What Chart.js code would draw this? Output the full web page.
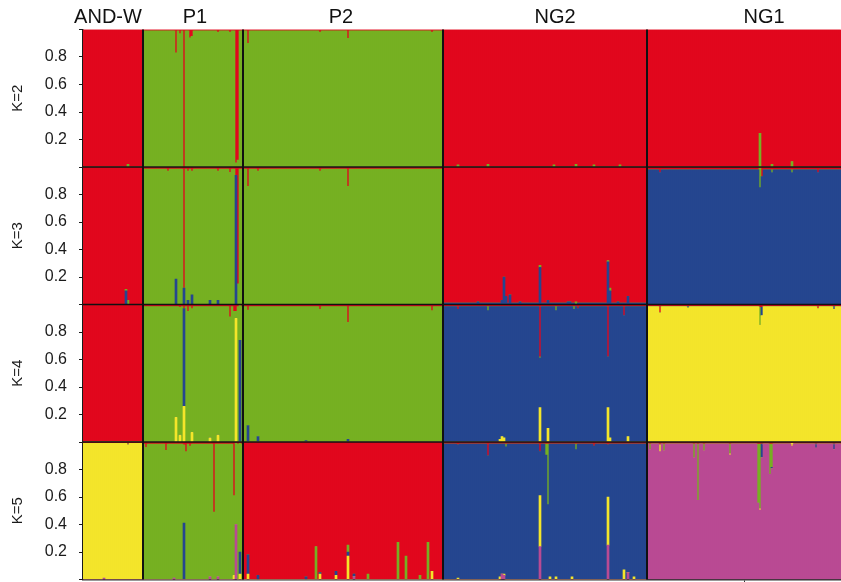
<!DOCTYPE html>
<html>
<head>
<meta charset="utf-8">
<script src="https://cdn.jsdelivr.net/npm/chart.js@4/dist/chart.umd.min.js"></script>
<style>
  html, body { margin: 0; padding: 0; background: #fff; }
  canvas { display: block; }
</style>
</head>
<body>
<canvas id="structurePlot" width="841" height="582"></canvas>
<script>
// populations, left to right, and how many individuals each holds
const groups = ['AND-W', 'P1', 'P2', 'NG2', 'NG1'];
const groupSizes = [30, 50, 100, 102, 97];
// individual (index) over which each population name sits
const labelAt = [12, 55.5, 128.5, 235.5, 340];

const clusterColors = {
    red: '#e1071d',
    green: '#76b022',
    blue: '#25468f',
    yellow: '#f4e52a',
    pink: '#b94a93'
};

// clusters of each K, bottom to top of a bar
const k2Order = ['green', 'red'];
const k3Order = ['blue', 'green', 'red'];
const k4Order = ['yellow', 'blue', 'green', 'red'];
const k5Order = ['pink', 'yellow', 'blue', 'green', 'red'];

// cluster filling each population
const k2Main = ['red', 'green', 'green', 'red', 'red'];
const k3Main = ['red', 'green', 'green', 'red', 'blue'];
const k4Main = ['red', 'green', 'green', 'blue', 'yellow'];
const k5Main = ['yellow', 'green', 'red', 'blue', 'pink'];

// thin shares that run through a whole population
const k2Trace = [{}, { red: 0.01 }, { red: 0.01 }, {}, {}];
const k3Trace = [{}, { red: 0.015 }, { red: 0.015 }, { blue: 0.01 }, { red: 0.02 }];
const k4Trace = [{}, { red: 0.015 }, { red: 0.015 }, { red: 0.015 }, { red: 0.015 }];
const k5Trace = [{ red: 0.01 }, { red: 0.015 }, {}, { red: 0.015 }, { red: 0.015 }];

// admixed individuals: [index, shares of the non-main clusters]
const k2Admixed = [
    [22, { green: 0.02 }],
    [46, { red: 0.17 }], [48, { red: 0.03 }], [50, { red: 1 }], [53, { red: 0.06 }],
    [54, { red: 0.05 }], [67, { red: 0.02 }], [73, { red: 0.02 }], [76, { red: 0.97 }],
    [77, { red: 0.95 }],
    [82, { red: 0.1 }], [118, { red: 0.02 }], [132, { red: 0.065 }], [174, { red: 0.02 }],
    [187, { green: 0.015 }], [202, { green: 0.02 }], [235, { green: 0.015 }],
    [246, { green: 0.02 }], [255, { green: 0.015 }], [268, { green: 0.015 }],
    [338, { green: 0.245 }], [344, { green: 0.02 }], [354, { green: 0.04 }]
];

const k3Admixed = [
    [21, { blue: 0.1, green: 0.01 }], [22, { green: 0.03 }],
    [42, { red: 0.03 }], [46, { blue: 0.185, red: 0.015 }], [50, { blue: 0.12, red: 0.88 }],
    [52, { blue: 0.03, red: 0.03 }], [54, { blue: 0.07, red: 0.03 }],
    [63, { blue: 0.03, red: 0.015 }], [67, { blue: 0.03, red: 0.03 }], [73, { red: 0.04 }],
    [76, { blue: 0.94, red: 0.06 }], [77, { red: 0.85 }],
    [82, { red: 0.14 }], [87, { red: 0.03 }], [118, { red: 0.03 }], [132, { red: 0.14 }],
    [197, { blue: 0.02 }], [209, { blue: 0.03 }], [210, { blue: 0.2 }], [211, { blue: 0.06 }],
    [213, { blue: 0.07 }], [218, { blue: 0.02 }], [228, { blue: 0.27, green: 0.015 }],
    [232, { blue: 0.03 }], [242, { blue: 0.02 }], [243, { blue: 0.02 }], [246, { green: 0.02 }],
    [262, { blue: 0.31, green: 0.01 }], [263, { blue: 0.1, green: 0.02 }],
    [267, { blue: 0.02 }], [272, { blue: 0.06 }],
    [288, { red: 0.04 }], [338, { green: 0.14, red: 0.01 }], [339, { red: 0.07 }],
    [344, { green: 0.02, red: 0.02 }], [354, { green: 0.02, red: 0.02 }], [367, { red: 0.04 }]
];

const k4Admixed = [
    [46, { yellow: 0.18, red: 0.015 }], [48, { yellow: 0.05, red: 0.02 }],
    [50, { yellow: 0.26, blue: 0.71, red: 0.03 }], [52, { red: 0.05 }],
    [54, { yellow: 0.07, red: 0.03 }], [63, { yellow: 0.03, red: 0.015 }],
    [67, { yellow: 0.05, red: 0.015 }], [73, { red: 0.09 }], [75, { red: 0.05 }],
    [76, { yellow: 0.9, red: 0.05 }], [78, { blue: 0.74 }],
    [82, { blue: 0.12, red: 0.04 }], [87, { blue: 0.04, red: 0.015 }],
    [111, { blue: 0.01, red: 0.015 }], [118, { red: 0.035 }],
    [132, { blue: 0.02, red: 0.13 }], [174, { red: 0.045 }],
    [187, { red: 0.035 }], [202, { green: 0.03, red: 0.015 }],
    [208, { yellow: 0.02, red: 0.015 }], [209, { yellow: 0.04, red: 0.015 }],
    [210, { yellow: 0.03, red: 0.015 }], [228, { yellow: 0.25, green: 0.01, red: 0.38 }],
    [232, { yellow: 0.1, red: 0.015 }], [236, { green: 0.03, red: 0.015 }],
    [245, { green: 0.02, red: 0.015 }], [247, { red: 0.03 }],
    [262, { yellow: 0.25, red: 0.38 }], [263, { yellow: 0.03, red: 0.015 }],
    [270, { red: 0.08 }], [272, { yellow: 0.04, red: 0.015 }],
    [288, { red: 0.06 }], [302, { blue: 0.01, red: 0.015 }],
    [338, { green: 0.13, red: 0.02 }], [339, { blue: 0.06, red: 0.02 }],
    [367, { red: 0.03 }], [375, { blue: 0.02, red: 0.015 }]
];

const k5Admixed = [
    [10, { pink: 0.01, red: 0.01 }], [22, { red: 0.02 }],
    [31, { red: 0.04 }], [41, { red: 0.06 }], [45, { pink: 0.01, red: 0.015 }],
    [50, { blue: 0.41, red: 0.02 }], [51, { red: 0.07 }], [53, { red: 0.03 }],
    [63, { pink: 0.02, red: 0.015 }], [65, { red: 0.51 }], [67, { pink: 0.02, red: 0.015 }],
    [75, { yellow: 0.03, red: 0.39 }], [76, { pink: 0.4, red: 0.01 }],
    [78, { yellow: 0.04, blue: 0.16, red: 0.01 }],
    [82, { yellow: 0.04, blue: 0.14 }], [87, { blue: 0.03 }], [111, { blue: 0.02 }],
    [116, { green: 0.24 }], [118, { yellow: 0.04, blue: 0.01 }],
    [126, { yellow: 0.03, blue: 0.03 }], [132, { yellow: 0.17, blue: 0.03, green: 0.05 }],
    [135, { pink: 0.02, blue: 0.02 }], [142, { green: 0.04 }], [157, { green: 0.27 }],
    [161, { green: 0.17 }], [168, { green: 0.03 }], [172, { green: 0.27 }], [174, { yellow: 0.06 }],
    [187, { yellow: 0.01, red: 0.02 }], [202, { red: 0.1 }],
    [208, { yellow: 0.02, red: 0.015 }], [209, { pink: 0.04, red: 0.015 }],
    [210, { pink: 0.03, yellow: 0.01, red: 0.015 }], [211, { green: 0.02, red: 0.015 }],
    [228, { pink: 0.24, yellow: 0.37, red: 0.07 }],
    [231, { green: 0.08, red: 0.015 }], [232, { green: 0.44, red: 0.015 }],
    [233, { yellow: 0.02, red: 0.015 }], [236, { yellow: 0.02, red: 0.015 }],
    [244, { yellow: 0.02, red: 0.015 }], [246, { green: 0.04, red: 0.015 }], [255, { red: 0.03 }],
    [262, { pink: 0.25, yellow: 0.35, red: 0.02 }], [270, { yellow: 0.07, red: 0.015 }],
    [272, { pink: 0.05, red: 0.015 }], [275, { yellow: 0.02, red: 0.015 }],
    [283, { green: 0.04, red: 0.015 }], [288, { yellow: 0.05, red: 0.02 }],
    [290, { green: 0.05, red: 0.015 }], [305, { green: 0.1, red: 0.015 }],
    [307, { green: 0.41, red: 0.015 }], [310, { green: 0.05, red: 0.015 }],
    [323, { yellow: 0.01, green: 0.07, red: 0.015 }], [337, { green: 0.43, red: 0.015 }],
    [338, { yellow: 0.01, green: 0.47, red: 0.015 }], [339, { blue: 0.1, red: 0.015 }],
    [343, { green: 0.22, red: 0.015 }], [344, { blue: 0.01, green: 0.17, red: 0.015 }],
    [354, { yellow: 0.02, red: 0.01 }], [366, { blue: 0.03, red: 0.015 }],
    [375, { blue: 0.04, red: 0.015 }]
];

const panels = [
    { axis: 'k2', title: 'K=2', order: k2Order, main: k2Main, trace: k2Trace, admixed: k2Admixed, weight: 4 },
    { axis: 'k3', title: 'K=3', order: k3Order, main: k3Main, trace: k3Trace, admixed: k3Admixed, weight: 3 },
    { axis: 'k4', title: 'K=4', order: k4Order, main: k4Main, trace: k4Trace, admixed: k4Admixed, weight: 2 },
    { axis: 'k5', title: 'K=5', order: k5Order, main: k5Main, trace: k5Trace, admixed: k5Admixed, weight: 1 }
];

const total = groupSizes.reduce((a, b) => a + b, 0);
const individuals = Array.from({ length: total }, (_, i) => String(i + 1));

// middle of each population, for the small ticks under the last panel
const groupCenters = [];
let run = 0;
groupSizes.forEach(n => { groupCenters.push(run + (n - 1) / 2); run += n; });

// shares per cluster for every individual; the main cluster takes what is left
function buildShares(p) {
    const extra = new Map(p.admixed);
    const shares = {};
    p.order.forEach(c => { shares[c] = []; });
    let i = 0;
    groupSizes.forEach((n, gi) => {
        const main = p.main[gi];
        for (let k = 0; k < n; k++, i++) {
            const other = extra.get(i) || p.trace[gi];
            let rest = 1;
            p.order.forEach(c => {
                if (c === main) return;
                const v = other[c] || 0;
                shares[c].push(v);
                rest -= v;
            });
            shares[main].push(Math.max(rest, 0));
        }
    });
    return shares;
}

const datasets = [];
panels.forEach(p => {
    const shares = buildShares(p);
    p.order.forEach(c => {
        datasets.push({
            label: p.title + ' ' + c,
            data: shares[c],
            yAxisID: p.axis,
            backgroundColor: clusterColors[c],
            borderWidth: 0,
            barPercentage: 1,
            categoryPercentage: 1
        });
    });
});

const ink = '#1a1a1a';

function panelAxis(p) {
    return {
        type: 'linear',
        position: 'left',
        stack: 'panels',
        stackWeight: 1,
        weight: p.weight,
        stacked: true,
        min: 0,
        max: 1,
        z: 1,
        afterFit: s => {
            s.width = 83;
            s.paddingTop = 0;
            s.paddingBottom = 0;
        },
        ticks: {
            stepSize: 0.2,
            autoSkip: false,
            padding: 12,
            color: ink,
            font: { size: 16 },
            callback: v => (v > 0.01 && v < 0.99) ? v.toFixed(1) : ''
        },
        grid: { drawOnChartArea: false, drawTicks: true, tickLength: 4, color: ink },
        border: { display: true, color: ink, width: 1.5 },
        title: { display: true, text: p.title, color: ink, font: { size: 15 }, padding: { top: 9, bottom: 0 } }
    };
}

// black lines between populations and between panels
const separators = {
    id: 'separators',
    afterDatasetsDraw(chart) {
        const { ctx, chartArea, scales } = chart;
        ctx.save();
        ctx.strokeStyle = '#111';
        ctx.lineWidth = 2;
        let start = 0;
        groupSizes.slice(0, -1).forEach(n => {
            start += n;
            const px = scales.x.getPixelForValue(start - 0.5);
            ctx.beginPath();
            ctx.moveTo(px, chartArea.top);
            ctx.lineTo(px, chartArea.bottom);
            ctx.stroke();
        });
        ctx.lineWidth = 1.5;
        panels.slice(1).forEach(p => {
            const py = scales[p.axis].top;
            ctx.beginPath();
            ctx.moveTo(chartArea.left, py);
            ctx.lineTo(chartArea.right, py);
            ctx.stroke();
        });
        ctx.restore();
    }
};

Chart.defaults.font.family = '"Liberation Sans", Arial, sans-serif';

const scales = {
    x: {
        type: 'category',
        position: 'bottom',
        stacked: true,
        offset: true,
        z: 1,
        afterBuildTicks: s => { s.ticks = groupCenters.map(v => ({ value: v })); },
        afterFit: s => { s.height = 2.5; },
        ticks: { display: false },
        grid: { offset: false, drawOnChartArea: false, drawTicks: true, tickLength: 4, color: '#333' },
        border: { display: true, color: '#333', width: 1.5 }
    },
    groupNames: {
        type: 'category',
        position: 'top',
        offset: true,
        afterBuildTicks: s => { s.ticks = labelAt.map(v => ({ value: v })); },
        afterFit: s => { s.height = 29.5; },
        ticks: {
            padding: 0,
            autoSkip: false,
            maxRotation: 0,
            color: '#111',
            font: { size: 20 },
            callback: (v, i) => groups[i]
        },
        grid: { display: false, drawTicks: false },
        border: { display: false }
    }
};
panels.forEach(p => { scales[p.axis] = panelAxis(p); });

new Chart(document.getElementById('structurePlot'), {
    type: 'bar',
    data: { labels: individuals, datasets: datasets },
    options: {
        responsive: false,
        animation: false,
        devicePixelRatio: 1,
        layout: { padding: 0, autoPadding: false },
        plugins: { legend: { display: false }, tooltip: { enabled: false } },
        scales: scales
    },
    plugins: [separators]
});
</script>
</body>
</html>
